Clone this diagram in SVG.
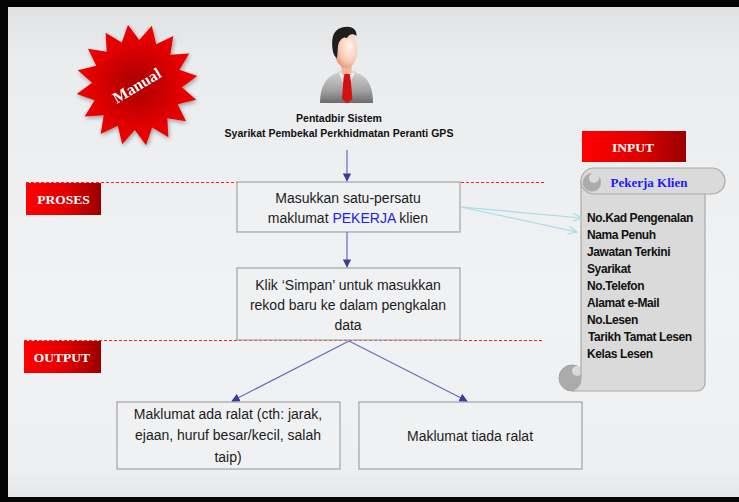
<svg xmlns="http://www.w3.org/2000/svg" width="739" height="502" viewBox="0 0 739 502">
  <defs>
    <linearGradient id="bg" x1="0" y1="0" x2="0" y2="1">
      <stop offset="0" stop-color="#dfe0e2"/>
      <stop offset="0.12" stop-color="#ebecee"/>
      <stop offset="0.6" stop-color="#f1f2f4"/>
      <stop offset="0.93" stop-color="#eeeff1"/>
      <stop offset="1" stop-color="#e4e5e7"/>
    </linearGradient>
    <linearGradient id="tag" x1="0" y1="0" x2="1" y2="0">
      <stop offset="0" stop-color="#ff0000"/>
      <stop offset="0.55" stop-color="#e00000"/>
      <stop offset="1" stop-color="#9a0000"/>
    </linearGradient>
    <radialGradient id="burst" cx="0.5" cy="0.5" r="0.5">
      <stop offset="0" stop-color="#a80000"/>
      <stop offset="0.7" stop-color="#e00000"/>
      <stop offset="1" stop-color="#f20000"/>
    </radialGradient>
    <radialGradient id="skin" cx="0.65" cy="0.4" r="0.7">
      <stop offset="0" stop-color="#fff2ea"/>
      <stop offset="0.6" stop-color="#f8cdb5"/>
      <stop offset="1" stop-color="#d99070"/>
    </radialGradient>
    <linearGradient id="suit" x1="0" y1="0" x2="0" y2="1">
      <stop offset="0" stop-color="#cfcfcf"/>
      <stop offset="0.6" stop-color="#a0a0a0"/>
      <stop offset="1" stop-color="#6a6a6a"/>
    </linearGradient>
    <filter id="shadow" x="-20%" y="-20%" width="140%" height="140%">
      <feGaussianBlur in="SourceAlpha" stdDeviation="2"/>
      <feOffset dx="1" dy="2"/>
      <feComponentTransfer><feFuncA type="linear" slope="0.35"/></feComponentTransfer>
      <feMerge><feMergeNode/><feMergeNode in="SourceGraphic"/></feMerge>
    </filter>
    <marker id="arrowBlue" viewBox="0 0 10 10" refX="9" refY="5" markerWidth="7" markerHeight="7" orient="auto">
      <path d="M0,0 L10,5 L0,10 Z" fill="#3a3aa0"/>
    </marker>
    <marker id="arrowCyan" viewBox="0 0 10 10" refX="9" refY="5" markerWidth="10" markerHeight="10" orient="auto" markerUnits="userSpaceOnUse">
      <path d="M0,1 L9,5 L0,9" fill="none" stroke="#a6dde2" stroke-width="1.2"/>
    </marker>
    <style>
      .box { fill: #f0f1f3; stroke: #a3a3a3; stroke-width: 1.2; }
      .body { font-family: "Liberation Sans", Arial, sans-serif; font-size: 14px; fill: #1c1c1c; text-anchor: middle; }
      .tagtext { font-family: "Liberation Serif", "Times New Roman", serif; font-weight: bold; font-size: 13.5px; fill: #ffffff; text-anchor: middle; }
      .head { font-family: "Liberation Sans", Arial, sans-serif; font-weight: bold; font-size: 10.5px; fill: #111111; text-anchor: middle; }
      .item { font-family: "Liberation Sans", Arial, sans-serif; font-weight: bold; font-size: 12px; letter-spacing: -0.4px; fill: #111111; }
      .flow { fill: none; stroke: #6a6ac0; stroke-width: 1.2; marker-end: url(#arrowBlue); }
      .feed { fill: none; stroke: #a6dde2; stroke-width: 1.2; marker-end: url(#arrowCyan); }
      .guide { stroke: #ff2020; stroke-width: 1; stroke-dasharray: 3 2; }
      .scroll { fill: #dadada; stroke: #a9a9a9; stroke-width: 1.2; }
      .curl { fill: #ababab; stroke: #a0a0a0; stroke-width: 1; }
    </style>
  </defs>

  <!-- page background and frame -->
  <rect x="0" y="0" width="739" height="502" fill="url(#bg)"/>
  <rect x="0" y="0" width="739" height="7" fill="#050505"/>
  <rect x="0" y="0" width="8" height="502" fill="#050505"/>
  <rect x="0" y="497" width="739" height="5" fill="#050505"/>

  <!-- section guides -->
  <line class="guide" x1="26" y1="182.5" x2="545" y2="182.5"/>
  <line class="guide" x1="24" y1="340.5" x2="543" y2="340.5"/>

  <!-- "Manual" starburst -->
  <g id="manual-badge" filter="url(#shadow)">
    <polygon fill="url(#burst)" points="151.8,25.8 156.2,44.3 173.3,36.0 170.3,54.7 189.3,53.6 179.4,69.8 197.3,76.0 181.9,87.2 196.2,99.8 177.7,104.2 186.0,121.3 167.3,118.3 168.4,137.3 152.2,127.4 146.0,145.3 134.8,129.9 122.2,144.2 117.8,125.7 100.7,134.0 103.7,115.3 84.7,116.4 94.6,100.2 76.7,94.0 92.1,82.8 77.8,70.2 96.3,65.8 88.0,48.7 106.7,51.7 105.6,32.7 121.8,42.6 128.0,24.7 139.2,40.1"/>
    <text x="137" y="91" transform="rotate(-31 137 86)" font-family="'Liberation Serif', 'Times New Roman', serif" font-weight="bold" font-size="16" fill="#ffffff" text-anchor="middle">Manual</text>
  </g>

  <!-- system administrator -->
  <g id="admin">
    <path d="M320,103 C320,88 325,77 337,73 L357,73 C369,77 373,88 373,103 Z" fill="url(#suit)"/>
    <path d="M338,72 L346,90 L356,72 Z" fill="#ececec" stroke="#bdbdbd" stroke-width="0.6"/>
    <path d="M341,64 L352,64 L351,75 L342,75 Z" fill="#efb89c"/>
    <path d="M344.5,74 L349.5,74 L350.5,78 L352.5,99 L347,103.5 L342,99 L343.5,78 Z" fill="#d31212"/>
    <ellipse cx="346" cy="50" rx="11.5" ry="18" fill="url(#skin)"/>
    <path d="M333,52 C331,40 332,30 342,27.5 C350,25.5 357,28 356.5,36 C353,33 349,34 347,38 C343,36 339,40 338,46 L337,58 C335,57 334,55 333,52 Z" fill="#1e1e1e"/>
    <text class="head" x="339" y="122">Pentadbir Sistem</text>
    <text class="head" x="339" y="137">Syarikat Pembekal Perkhidmatan Peranti GPS</text>
  </g>

  <!-- section tags -->
  <g id="tag-proses">
    <rect x="26" y="183" width="75" height="32" fill="url(#tag)"/>
    <text class="tagtext" x="63.5" y="204">PROSES</text>
  </g>
  <g id="tag-output">
    <rect x="24" y="341" width="77" height="32" fill="url(#tag)"/>
    <text class="tagtext" x="62" y="362">OUTPUT</text>
  </g>
  <g id="tag-input">
    <rect x="582" y="131" width="104" height="31" fill="url(#tag)"/>
    <text class="tagtext" x="633" y="152">INPUT</text>
  </g>

  <!-- input scroll -->
  <g id="scroll-pekerja">
    <circle class="curl" cx="572" cy="378" r="13"/>
    <circle cx="577" cy="371" r="5" fill="#dadada"/>
    <path class="scroll" d="M581,181 L705,181 L705,383 A8,8 0 0 1 697,391 L572,391 A13,13 0 0 0 581,378 Z"/>
    <path class="scroll" d="M594,168 H712 A13,13 0 0 1 712,194 H594 A13,13 0 0 1 594,168 Z"/>
    <path d="M583,181 A9,9 0 0 0 601,184 A5,5 0 0 1 592,181 Z" fill="#ababab"/>
    <circle cx="592" cy="182" r="9" fill="#ababab"/>
    <circle cx="594" cy="178" r="5" fill="#dadada"/>
    <text x="649" y="187" font-family="'Liberation Serif', 'Times New Roman', serif" font-weight="bold" font-size="13" fill="#1a1aff" text-anchor="middle">Pekerja Klien</text>
    <text class="item" x="587" y="222">No.Kad Pengenalan</text>
    <text class="item" x="587" y="239">Nama Penuh</text>
    <text class="item" x="587" y="256">Jawatan Terkini</text>
    <text class="item" x="587" y="273">Syarikat</text>
    <text class="item" x="587" y="290">No.Telefon</text>
    <text class="item" x="587" y="307">Alamat e-Mail</text>
    <text class="item" x="587" y="324">No.Lesen</text>
    <text class="item" x="588" y="341">Tarikh Tamat Lesen</text>
    <text class="item" x="587" y="358">Kelas Lesen</text>
  </g>

  <!-- process steps -->
  <g id="step-input">
    <rect class="box" x="237" y="182" width="223" height="50"/>
    <text class="body" x="348" y="203">Masukkan satu-persatu</text>
    <text class="body" x="348" y="223">maklumat <tspan fill="#2222ee">PEKERJA</tspan> klien</text>
  </g>
  <g id="step-save">
    <rect class="box" x="237" y="268" width="223" height="72"/>
    <text class="body" x="348" y="290">Klik ‘Simpan’ untuk masukkan</text>
    <text class="body" x="348" y="310">rekod baru ke dalam pengkalan</text>
    <text class="body" x="348" y="330">data</text>
  </g>

  <!-- outcomes -->
  <g id="result-error">
    <rect class="box" x="117" y="402" width="223" height="67"/>
    <text class="body" x="228" y="419">Maklumat ada ralat (cth: jarak,</text>
    <text class="body" x="228" y="440">ejaan, huruf besar/kecil, salah</text>
    <text class="body" x="228" y="462">taip)</text>
  </g>
  <g id="result-ok">
    <rect class="box" x="359" y="402" width="223" height="67"/>
    <text class="body" x="470" y="441">Maklumat tiada ralat</text>
  </g>

  <!-- connectors -->
  <g id="connectors">
    <line class="flow" x1="347" y1="150" x2="347" y2="181"/>
    <line class="flow" x1="347" y1="232" x2="347" y2="267"/>
    <line class="flow" x1="349" y1="341" x2="232" y2="401"/>
    <line class="flow" x1="349" y1="341" x2="467" y2="401"/>
    <line class="feed" x1="461" y1="207" x2="582" y2="218"/>
    <line class="feed" x1="461" y1="207" x2="577" y2="232"/>
  </g>
</svg>
